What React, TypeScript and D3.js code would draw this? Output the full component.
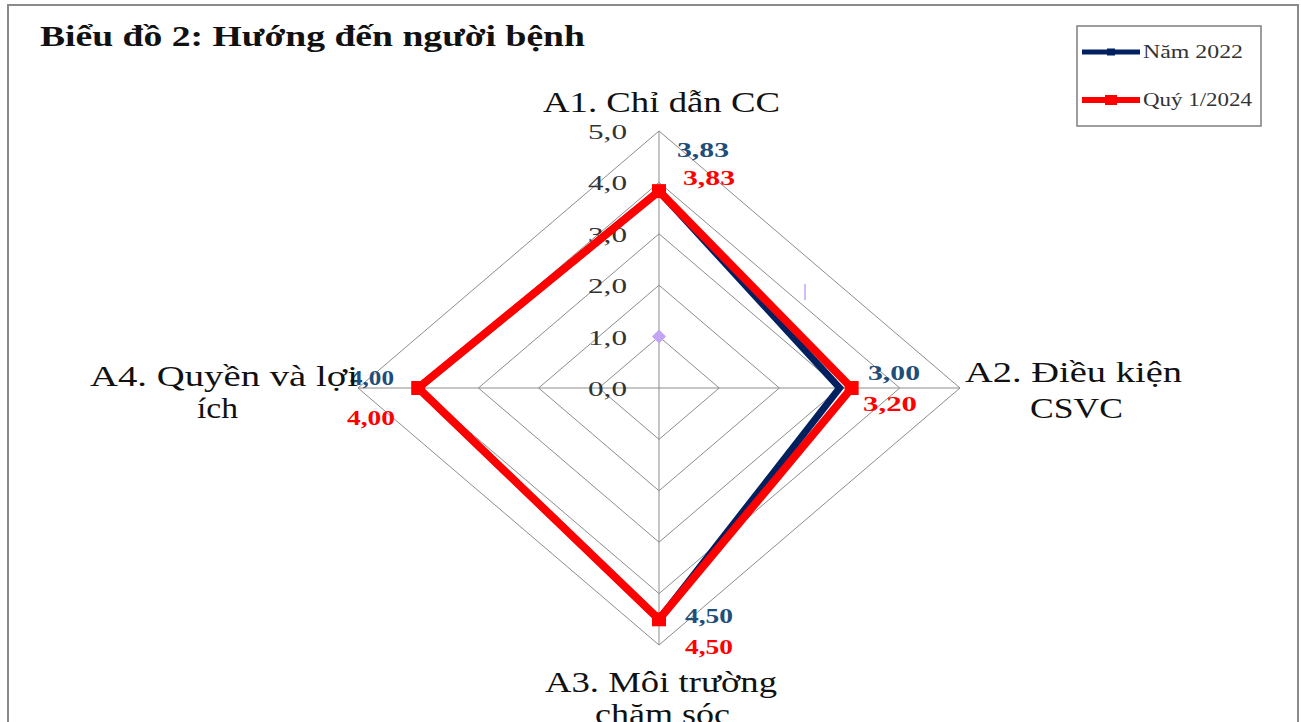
import React from "react";
import * as d3 from "d3";

const categories = ["A1. Chỉ dẫn CC", "A2. Điều kiện CSVC", "A3. Môi trường chăm sóc", "A4. Quyền và lợi ích"];
const labelLines = [["A1. Chỉ dẫn CC"], ["A2. Điều kiện", "CSVC"], ["A3. Môi trường", "chăm sóc"], ["A4. Quyền và lợi", "ích"]];
const seriesNames = ["Năm 2022", "Quý 1/2024"];
const values2022 = [3.83, 3.0, 4.5, 4.0];
const values2024 = [3.83, 3.2, 4.5, 4.0];
const ticks = [0, 1, 2, 3, 4, 5];
const extraPoint = [1.0]; // stray lavender marker on A1 axis

const W = 1301, H = 722;
const cx = 659, cy = 388;

export default function App() {
  const rx = d3.scaleLinear().domain([0, 5]).range([0, 301]);
  const ry = d3.scaleLinear().domain([0, 5]).range([0, 257]);
  const angle = d3.scaleLinear().domain([0, categories.length]).range([0, 2 * Math.PI]);
  const pt = (i: number, v: number): [number, number] => {
    const a = angle(i);
    return [cx + Math.sin(a) * rx(v), cy - Math.cos(a) * ry(v)];
  };
  const polyLine = d3.line<[number, number]>().curve(d3.curveLinearClosed);
  const fmt = (v: number) => d3.format(".2f")(v).replace(".", ",");
  const fmt1 = (v: number) => d3.format(".1f")(v).replace(".", ",");

  const blue = "#002060";
  const red = "#FF0000";
  const blueLbl = "#1F4E79";
  const grid = "#8c8c8c";

  const p22 = values2022.map((v, i) => pt(i, v));
  const p24 = values2024.map((v, i) => pt(i, v));

  // [x, baseline, width]
  const lblPos = [
    { b: [677, 157, 52], r: [683, 185, 52] },
    { b: [868, 380, 52], r: [863, 411, 54] },
    { b: [685, 623, 48], r: [685, 654, 48] },
    { b: [350, 385, 44], r: [347, 425, 48] },
  ];
  // per line: [x, baseline, width]
  const catPos = [
    [[543, 112, 237]],
    [[965, 382, 217], [1030, 418, 93]],
    [[545, 692, 232], [595, 724, 135]],
    [[90, 386, 268], [197, 418, 41]],
  ];

  return (
    <svg width={W} height={H} style={{ position: "absolute", left: 0, top: 0, background: "#fff" }}
      fontFamily="'Liberation Serif', 'Times New Roman', serif">
      <rect x={8} y={5} width={1290} height={730} fill="#fff" stroke="#8a8a8a" strokeWidth={2} />
      <text x={40} y={46} fontSize={29} fontWeight="bold" fill="#111" textLength={545} lengthAdjust="spacingAndGlyphs">Biểu đồ 2: Hướng đến người bệnh</text>

      {/* grid rings */}
      {ticks.slice(1).map((t) => (
        <path key={t} d={polyLine(categories.map((_, i) => pt(i, t))) || ""} fill="none" stroke={grid} strokeWidth={1} />
      ))}
      {/* spokes */}
      {categories.map((_, i) => {
        const [x, y] = pt(i, 5);
        return <line key={i} x1={cx} y1={cy} x2={x} y2={y} stroke={grid} strokeWidth={1} />;
      })}
      {/* tick labels */}
      {ticks.map((t) => (
        <text key={t} x={588} y={cy - ry(t) + 8} fontSize={22} fill="#333" textLength={39} lengthAdjust="spacingAndGlyphs">{fmt1(t)}</text>
      ))}

      {/* stray third series marker */}
      {extraPoint.map((v, i) => {
        const [x, y] = pt(i, v);
        return <path key={i} d={`M${x},${y - 7}L${x + 7},${y}L${x},${y + 7}L${x - 7},${y}Z`} fill="#c3a4f5" />;
      })}
      <line x1={805} y1={284} x2={805} y2={300} stroke="#c3a4f5" strokeWidth={1.5} />

      {/* series */}
      <path d={polyLine(p22) || ""} fill="none" stroke={blue} strokeWidth={7} strokeLinejoin="miter" />
      <path d={polyLine(p24) || ""} fill="none" stroke={red} strokeWidth={8} strokeLinejoin="miter" />
      {p24.map(([x, y], i) => (
        <rect key={i} x={x - 7} y={y - 7} width={14} height={14} fill={red} />
      ))}

      {/* data labels */}
      {values2022.map((v, i) => (
        <text key={"b" + i} x={lblPos[i].b[0]} y={lblPos[i].b[1]} fontSize={21} fontWeight="bold" fill={blueLbl}
          textLength={lblPos[i].b[2]} lengthAdjust="spacingAndGlyphs">{fmt(v)}</text>
      ))}
      {values2024.map((v, i) => (
        <text key={"r" + i} x={lblPos[i].r[0]} y={lblPos[i].r[1]} fontSize={21} fontWeight="bold" fill={red}
          textLength={lblPos[i].r[2]} lengthAdjust="spacingAndGlyphs">{fmt(v)}</text>
      ))}

      {/* category labels */}
      {labelLines.map((lines, i) => (
        <g key={i}>
          {lines.map((l, j) => (
            <text key={j} x={catPos[i][j][0]} y={catPos[i][j][1]} fontSize={29} fill="#111"
              textLength={catPos[i][j][2]} lengthAdjust="spacingAndGlyphs">{l}</text>
          ))}
        </g>
      ))}

      {/* legend */}
      <rect x={1077} y={26} width={184} height={100} fill="#fff" stroke="#7f7f7f" strokeWidth={1.5} />
      {seriesNames.map((n, i) => {
        const y = i === 0 ? 52 : 100;
        const c = i === 0 ? blue : red;
        return (
          <g key={n}>
            <line x1={1082} y1={y} x2={1140} y2={y} stroke={c} strokeWidth={i === 0 ? 5 : 6} />
            {i === 0 ? (
              <rect x={1107} y={y - 3.5} width={8} height={7} fill={c} />
            ) : (
              <rect x={1105} y={y - 5} width={12} height={10} fill={c} />
            )}
            <text x={1143} y={y + 6} fontSize={19} fill="#333" textLength={i === 0 ? 100 : 109} lengthAdjust="spacingAndGlyphs">{n}</text>
          </g>
        );
      })}
    </svg>
  );
}
